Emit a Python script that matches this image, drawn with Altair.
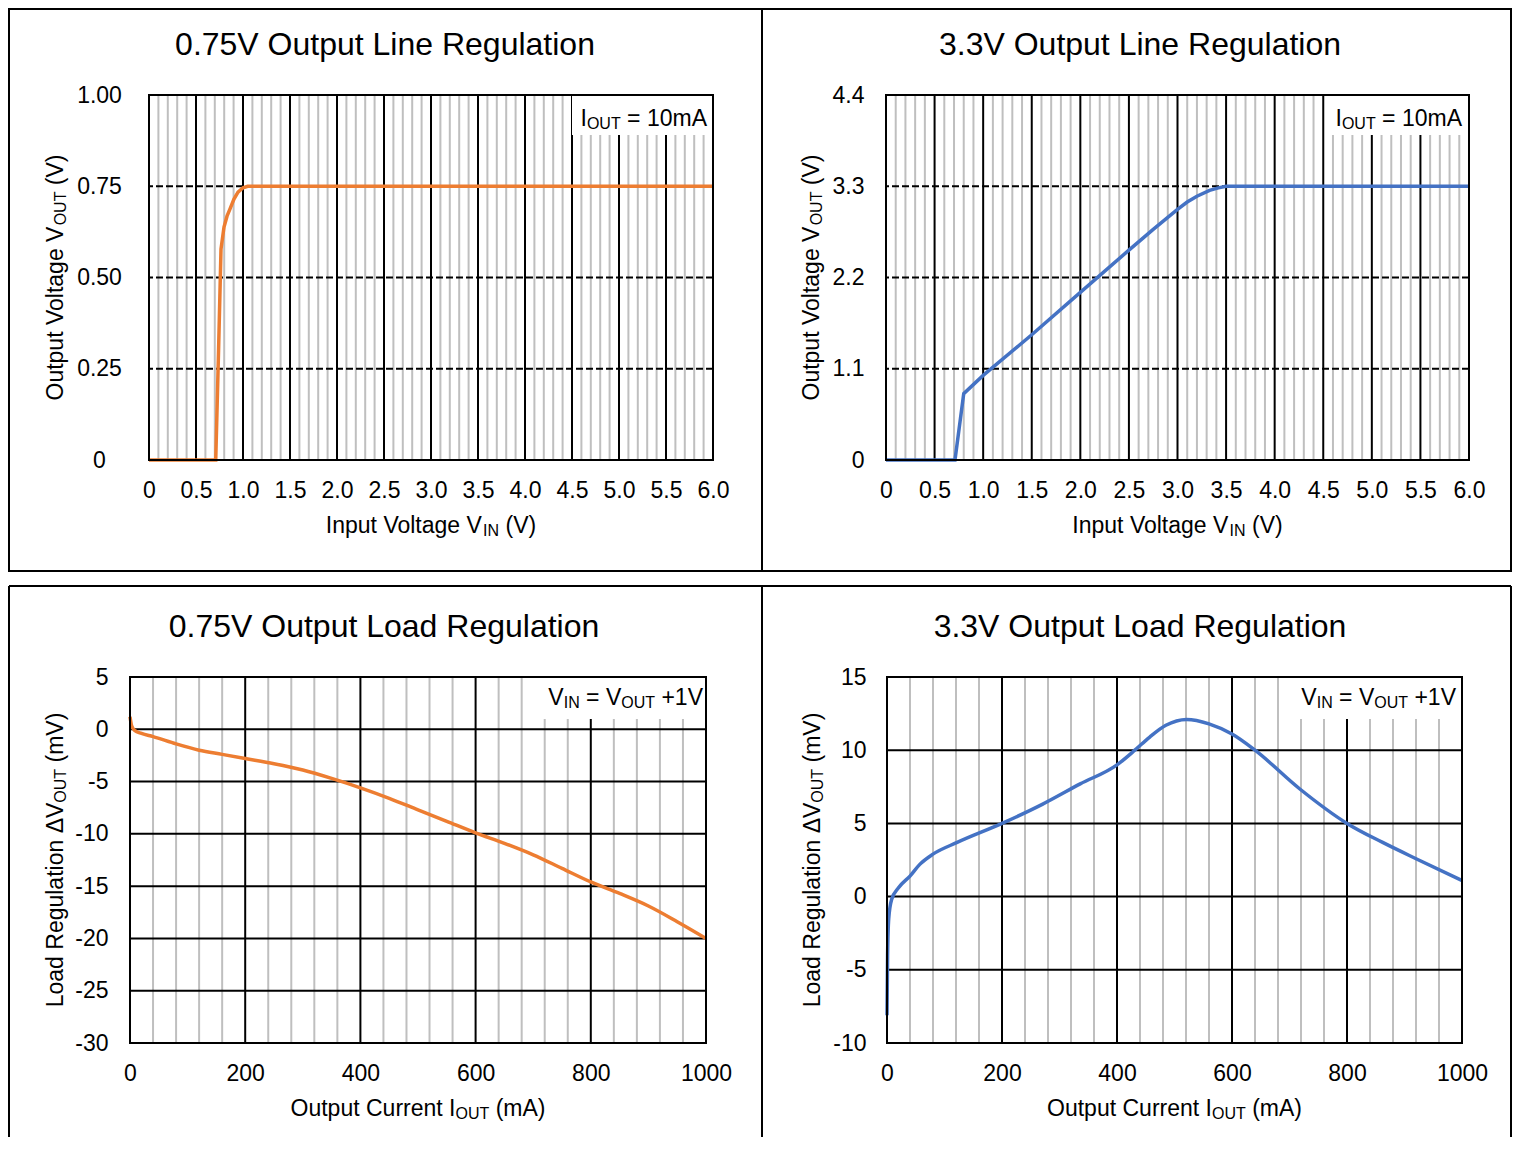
import altair as alt
import pandas as pd

FONT = "Liberation Sans, Arial, Helvetica, sans-serif"
ORANGE = "#ED7D31"
BLUE = "#4472C4"
GRAY = "#BFBFBF"

# ---------------- data ----------------
# 0.75V output line regulation
tl_vin = [0, 0.71, 0.74, 0.766, 0.798, 0.83, 0.862, 0.904, 0.947, 1.0, 1.05, 6.0]
tl_vout = [0, 0, 0.30, 0.578, 0.638, 0.668, 0.688, 0.715, 0.734, 0.746, 0.75, 0.75]

# 3.3V output line regulation
tr_vin = [0, 0.71, 0.80, 1.0, 1.5, 2.0, 2.5, 2.75, 3.0, 3.1, 3.2, 3.33, 3.42, 3.5, 6.0]
tr_vout = [0, 0, 0.80, 1.02, 1.51, 2.02, 2.53, 2.78, 3.02, 3.11, 3.18, 3.25, 3.28, 3.30, 3.30]

# 0.75V output load regulation
bl_iout = [0, 3, 8, 20, 40, 80, 120, 160, 200, 250, 300, 350, 400, 450, 500, 550, 600,
           650, 700, 750, 800, 850, 900, 950, 1000]
bl_dv = [1.2, 0.3, -0.1, -0.4, -0.7, -1.4, -2.0, -2.4, -2.8, -3.3, -3.9, -4.7, -5.6,
         -6.6, -7.7, -8.8, -9.9, -10.9, -12.0, -13.3, -14.6, -15.7, -16.9, -18.4, -20.0]

# 3.3V output load regulation
br_iout = [0, 1, 3, 8, 20, 40, 57, 80, 122, 200, 270, 336, 400, 431, 457, 485, 521,
           560, 600, 640, 718, 800, 862, 921, 1000]
br_dv = [-8.1, -4.0, -1.5, -0.2, 0.6, 1.4, 2.2, 2.9, 3.7, 5.0, 6.3, 7.7, 9.0, 10.0,
         10.9, 11.7, 12.1, 11.8, 11.1, 10.0, 7.35, 5.0, 3.7, 2.57, 1.1]

# ---------------- ticks / grid ----------------
vin_ticks = [0, 0.5, 1.0, 1.5, 2.0, 2.5, 3.0, 3.5, 4.0, 4.5, 5.0, 5.5, 6.0]
vin_minor = [round(i * 0.1, 1) for i in range(1, 60) if i % 5 != 0]
tl_y_ticks = [0, 0.25, 0.5, 0.75, 1.0]
tr_y_ticks = [0, 1.1, 2.2, 3.3, 4.4]
iout_ticks = [0, 200, 400, 600, 800, 1000]
iout_minor = [i * 40 for i in range(1, 25) if i % 5 != 0]
bl_y_ticks = [-30, -25, -20, -15, -10, -5, 0, 5]
br_y_ticks = [-10, -5, 0, 5, 10, 15]

# Arial / Liberation Sans advance widths (1/1000 em)
ARIAL = {' ': 278, '(': 333, ')': 333, '+': 584, '=': 584, '-': 333, '.': 278,
         'A': 667, 'C': 722, 'I': 278, 'L': 556, 'N': 722, 'O': 778, 'R': 722,
         'T': 611, 'U': 722, 'V': 667, 'a': 556, 'c': 500, 'd': 556, 'e': 556,
         'g': 556, 'i': 222, 'l': 222, 'm': 833, 'n': 556, 'o': 556, 'p': 556,
         'r': 333, 's': 500, 't': 278, 'u': 556, 'Δ': 668}


def tw(s, size):
    return sum(ARIAL.get(c, 556) for c in s) * size / 1000.0


ONE = pd.DataFrame({"k": [0]})


def text_layer(t, x, y, size, dx=0.0, dy=0.0, align="left", angle=0):
    kw = dict(text=t, font=FONT, fontSize=size, color="black", align=align,
              baseline="alphabetic", dx=dx, dy=dy)
    if angle:
        kw["angle"] = angle
    return alt.Chart(ONE).mark_text(**kw).encode(x=alt.value(x), y=alt.value(y))


def rich(pieces, x, y, anchor="center", angle=0, size=23, sub=16, subdy=3):
    sizes = [sub if s else size for _, s in pieces]
    widths = [tw(t, sz) for (t, _), sz in zip(pieces, sizes)]
    total = sum(widths)
    off = {"center": -total / 2, "right": -total, "left": 0}[anchor]
    out = []
    for (t, s), sz, w in zip(pieces, sizes, widths):
        lead = len(t) - len(t.lstrip())
        out.append(text_layer(t.strip(), x, y, sz, dx=off + tw(" " * lead, sz),
                              dy=subdy if s else 0, angle=angle))
        off += w
    return out


def panel(xv, yv, color, interp, xdom, ydom, xticks, yticks, xexpr, yexpr,
          x_major, x_minor, y_grid, dashed, w, h, frame, closed, title, title_x,
          xtitle, ytitle, ytitle_x, legend, legend_right, legend_base,
          lbox_w, lbox_h, ylab_align, ylab_pad):
    xs = alt.Scale(domain=xdom, nice=False, zero=False)
    ys = alt.Scale(domain=ydom, nice=False, zero=False)
    xaxis = alt.Axis(
        values=xticks, labelExpr=xexpr, title=None, grid=False, ticks=False,
        tickSize=0, domain=False, labelFont=FONT, labelFontSize=23,
        labelColor="black", labelPadding=19, labelFlush=False,
        labelOverlap=False, labelBaseline="top")
    yaxis = alt.Axis(
        values=yticks, labelExpr=yexpr, title=None, grid=False, ticks=False,
        tickSize=0, domain=False, labelFont=FONT, labelFontSize=23,
        labelColor="black", labelPadding=ylab_pad, labelAlign=ylab_align,
        labelBaseline="middle", labelFlush=False, labelOverlap=False)
    L, T, R, B = frame
    layers = []
    layers.append(alt.Chart(pd.DataFrame({"x": x_minor})).mark_rule(
        color=GRAY, strokeWidth=2).encode(x=alt.X("x:Q", scale=xs, axis=xaxis)))
    layers.append(alt.Chart(pd.DataFrame({"x": x_major})).mark_rule(
        color="black", strokeWidth=2).encode(x=alt.X("x:Q", scale=xs, axis=xaxis)))
    hkw = dict(color="black", strokeWidth=2)
    if dashed:
        hkw["strokeDash"] = [7, 3]
    layers.append(alt.Chart(pd.DataFrame({"y": y_grid})).mark_rule(**hkw).encode(
        y=alt.Y("y:Q", scale=ys, axis=yaxis)))
    # white legend background
    layers.append(alt.Chart(ONE).mark_rect(color="white").encode(
        x=alt.value(w - lbox_w), x2=alt.value(w - 1),
        y=alt.value(1), y2=alt.value(lbox_h)))
    # data line
    df = pd.DataFrame({"x": xv, "y": yv})
    layers.append(alt.Chart(df).mark_line(
        color=color, strokeWidth=3.5, interpolate=interp).encode(
        x=alt.X("x:Q", scale=xs, axis=xaxis),
        y=alt.Y("y:Q", scale=ys, axis=yaxis),
    ))
    # plot-area border
    layers.append(alt.Chart(ONE).mark_rect(
        fillOpacity=0, stroke="black", strokeWidth=2).encode(
        x=alt.value(0), x2=alt.value(w), y=alt.value(0), y2=alt.value(h)))
    # panel frame
    if closed:
        layers.append(alt.Chart(ONE).mark_rect(
            fillOpacity=0, stroke="black", strokeWidth=2).encode(
            x=alt.value(L), x2=alt.value(R), y=alt.value(T), y2=alt.value(B)))
    else:
        for xx in (L, R):
            layers.append(alt.Chart(ONE).mark_rule(color="black", strokeWidth=2).encode(
                x=alt.value(xx), y=alt.value(T), y2=alt.value(B)))
        layers.append(alt.Chart(ONE).mark_rule(color="black", strokeWidth=2).encode(
            x=alt.value(L), x2=alt.value(R), y=alt.value(T)))
    # texts
    layers.append(text_layer(title, title_x, -40, 32, align="center"))
    layers += rich(xtitle, w / 2, h + 73, "center")
    layers += rich(ytitle, ytitle_x, h / 2, "center", angle=270)
    layers += rich(legend, legend_right, legend_base, "right")
    return alt.layer(*layers).properties(width=w, height=h)


def spacer():
    # zero-content anchor so that each row starts at its frame, not at its plot origin
    return alt.Chart(ONE).mark_rect(opacity=0).encode(
        x=alt.value(0), x2=alt.value(1), y=alt.value(0), y2=alt.value(1)
    ).properties(width=1, height=1)


X1 = "datum.value == 0 ? '0' : format(datum.value, '.1f')"
Y2 = "datum.value == 0 ? '0' : format(datum.value, '.2f')"
Y1 = "datum.value == 0 ? '0' : format(datum.value, '.1f')"
INT = "datum.value + ''"

vin_title = [("Input Voltage V", False), ("IN", True), (" (V)", False)]
vout_title = [("Output Voltage V", False), ("OUT", True), (" (V)", False)]
iout_title = [("Output Current I", False), ("OUT", True), (" (mA)", False)]
dv_title = [("Load Regulation ΔV", False), ("OUT", True), (" (mV)", False)]
leg_line = [("I", False), ("OUT", True), (" = 10mA", False)]
leg_load = [("V", False), ("IN", True), (" = V", False), ("OUT", True), (" +1V", False)]

tl = panel(tl_vin, tl_vout, ORANGE, "linear", [0, 6], [0, 1], vin_ticks, tl_y_ticks,
           X1, Y2, vin_ticks, vin_minor, [0.25, 0.5, 0.75], True, 564, 365,
           (-140, -86, 613, 476), True, "0.75V Output Line Regulation", 236,
           vin_title, vout_title, -86, leg_line, 564 - 6, 31, 141, 40, "center", 50)
tr = panel(tr_vin, tr_vout, BLUE, "linear", [0, 6], [0, 4.4], vin_ticks, tr_y_ticks,
           X1, Y1, vin_ticks, vin_minor, [1.1, 2.2, 3.3], True, 583, 365,
           (-124, -86, 625, 476), True, "3.3V Output Line Regulation", 254,
           vin_title, vout_title, -67, leg_line, 583 - 7, 31, 142, 40, "right", 22)
bl = panel(bl_iout, bl_dv, ORANGE, "monotone", [0, 1000], [-30, 5], iout_ticks, bl_y_ticks,
           INT, INT, iout_ticks, iout_minor, [-25, -20, -15, -10, -5, 0], False, 576, 366,
           (-121, -91, 632, 460), False, "0.75V Output Load Regulation", 254,
           iout_title, dv_title, -67, leg_load, 576 - 3, 28, 169, 42, "right", 22)
br = panel(br_iout, br_dv, BLUE, "monotone", [0, 1000], [-10, 15], iout_ticks, br_y_ticks,
           INT, INT, iout_ticks, iout_minor, [-5, 0, 5, 10], False, 575, 366,
           (-125, -91, 624, 460), False, "3.3V Output Load Regulation", 253,
           iout_title, dv_title, -67, leg_load, 575 - 6, 28, 169, 42, "right", 21)

row1 = alt.hconcat(spacer(), tl, tr, spacing=-2)
row2 = alt.hconcat(spacer(), bl, br, spacing=-2)
chart = alt.vconcat(row1, row2, spacing=13, padding=0,
                    background="white").configure_view(strokeWidth=0)

chart.save("out.html", embed_options={"renderer": "svg", "actions": False})
